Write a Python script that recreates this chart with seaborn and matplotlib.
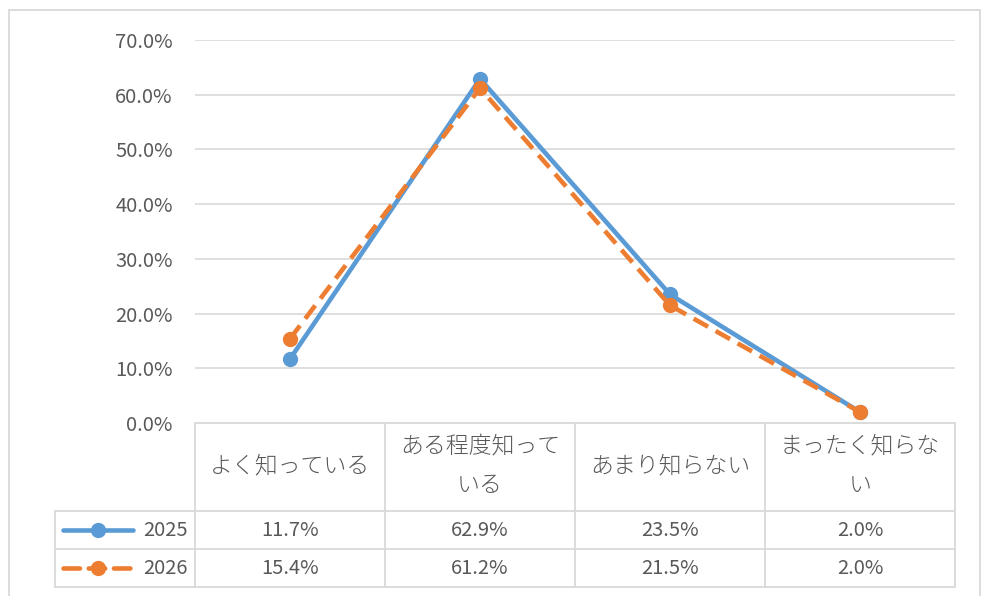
import matplotlib.pyplot as plt
import numpy as np
import pandas as pd
import seaborn as sns
from matplotlib.lines import Line2D
from matplotlib.patches import Rectangle

# --- data ---
categories = ["よく知っている", "ある程度知っている", "あまり知らない", "まったく知らない"]
header_labels = ["よく知っている", "ある程度知って\nいる", "あまり知らない", "まったく知らな\nい"]
years = ["2025", "2026"]
values_2025 = [11.7, 62.9, 23.5, 2.0]
values_2026 = [15.4, 61.2, 21.5, 2.0]
y_ticks = [0, 10, 20, 30, 40, 50, 60, 70]

colors = {"2025": "#5B9BD5", "2026": "#ED7D31"}
TXT = "#595959"
GRID = "#D9D9D9"
DASH = (3.6, 1.9)

sns.set_theme(style="white")
plt.rcParams["font.family"] = ["Noto Sans CJK JP", "DejaVu Sans"]

W, H = 986, 596
fig = plt.figure(figsize=(W / 100, H / 100), dpi=100)

# plot area in pixels: x 195..955, y 40..423
ax = fig.add_axes([195 / W, 1 - 423 / H, 760 / W, 383 / H])

df = pd.DataFrame({
    "pos": list(range(len(categories))) * 2,
    "value": values_2025 + values_2026,
    "year": [years[0]] * len(categories) + [years[1]] * len(categories),
})

sns.lineplot(data=df, x="pos", y="value", hue="year", style="year",
             palette=colors, dashes={"2025": "", "2026": DASH},
             markers={"2025": "o", "2026": "o"}, markersize=11,
             markeredgewidth=0, linewidth=3.3, legend=False, ax=ax)

ax.set_xlim(-0.5, len(categories) - 0.5)
ax.set_ylim(0, 70)
ax.set_yticks(y_ticks)
ax.set_yticklabels([f"{t:.1f}%" for t in y_ticks], color=TXT, fontsize=14.5)
ax.set_xticks([])
ax.set_xlabel("")
ax.set_ylabel("")
ax.tick_params(axis="y", length=0, pad=16)
for t in y_ticks[1:]:
    ax.axhline(t, color=GRID, lw=1.2, zorder=0)
for s in ax.spines.values():
    s.set_visible(False)

# --- data table under the plot (y in axes fraction, x in category units) ---
px = 1 / 383.0          # one pixel in axes-height units
head_bot = -88 * px
row1_bot = head_bot - 38 * px
row2_bot = row1_bot - 38 * px
leg_left = -0.5 - 140 / 190.0
trans = ax.get_xaxis_transform()
line_kw = dict(color=GRID, lw=1.3, transform=trans, clip_on=False)

n = len(categories)
ax.add_line(Line2D([-0.5, n - 0.5], [0, 0], **line_kw))
for yb in (head_bot, row1_bot, row2_bot):
    ax.add_line(Line2D([leg_left, n - 0.5], [yb, yb], **line_kw))
for i in range(n + 1):
    ax.add_line(Line2D([i - 0.5, i - 0.5], [0, row2_bot], **line_kw))
ax.add_line(Line2D([leg_left, leg_left], [head_bot, row2_bot], **line_kw))

for i, lab in enumerate(header_labels):
    ax.text(i, head_bot / 2 + 1 * px, lab, transform=trans, ha="center",
            va="center", fontsize=16.5, fontweight="light", color=TXT,
            linespacing=1.75, clip_on=False)

for yr, vals, ytop, ybot in ((years[0], values_2025, head_bot, row1_bot),
                             (years[1], values_2026, row1_bot, row2_bot)):
    ymid = (ytop + ybot) / 2
    for i, v in enumerate(vals):
        ax.text(i, ymid, f"{v:.1f}%", transform=trans, ha="center",
                va="center", fontsize=14.5, color=TXT, clip_on=False)
    # legend key
    x0 = leg_left + 8 / 190.0
    x1 = leg_left + 78 / 190.0
    ls = "-" if yr == years[0] else (0, DASH)
    ax.add_line(Line2D([x0, x1], [ymid, ymid], color=colors[yr], lw=3.3,
                       linestyle=ls, transform=trans, clip_on=False,
                       solid_capstyle="round", dash_capstyle="round"))
    ax.add_line(Line2D([(x0 + x1) / 2], [ymid], color=colors[yr], marker="o",
                       markersize=11, markeredgewidth=0, transform=trans,
                       clip_on=False))
    ax.text(-0.5 - 7 / 190.0, ymid, yr, transform=trans, ha="right",
            va="center", fontsize=14.5, color=TXT, clip_on=False)

# outer chart frame
fig.add_artist(Rectangle((9 / W, -0.01), (980 - 9) / W, (596 - 10) / H + 0.01,
                         transform=fig.transFigure, fill=False,
                         edgecolor=GRID, lw=1.3))

fig.savefig("out.png", dpi=100)
